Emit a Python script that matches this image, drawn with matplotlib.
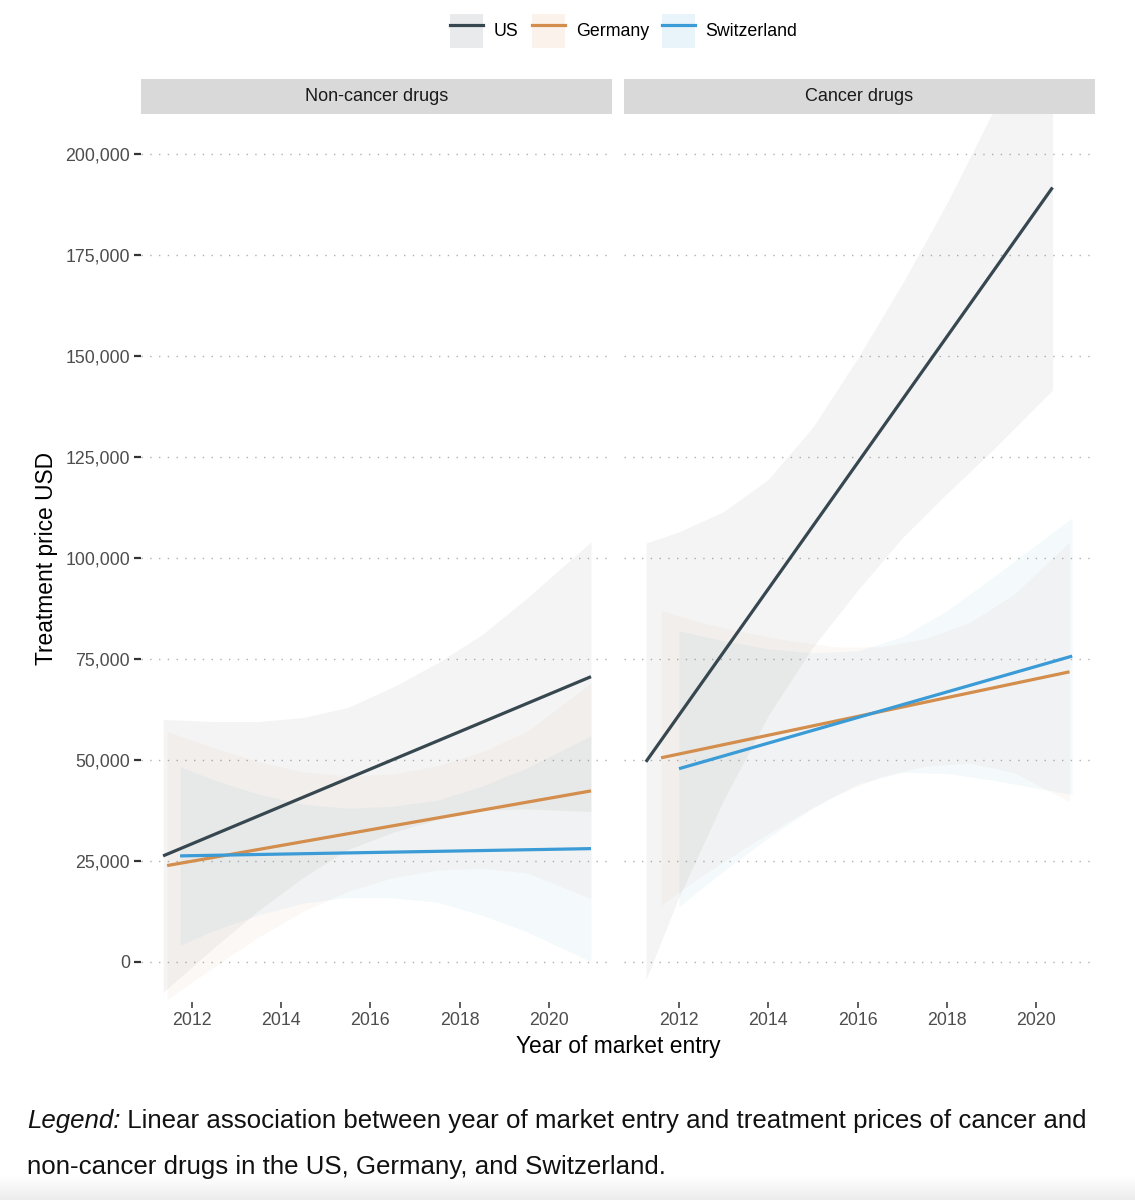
import numpy as np
import matplotlib
matplotlib.use("Agg")
import matplotlib.pyplot as plt
import matplotlib.ticker as mticker
from matplotlib.patches import Rectangle
from matplotlib.lines import Line2D
from matplotlib.colors import LinearSegmentedColormap

plt.rcParams["font.family"] = ["Liberation Sans", "DejaVu Sans"]


# Data

COUNTRIES = ["US", "Germany", "Switzerland"]
COLORS = {"US": "#37474f", "Germany": "#d38d4c", "Switzerland": "#3a9bd6"}
PANELS = ["Non-cancer drugs", "Cancer drugs"]
X_TICKS = [2012, 2014, 2016, 2018, 2020]
Y_TICKS = [0, 25000, 50000, 75000, 100000, 125000, 150000, 175000, 200000]

# Non-cancer drugs: regression lines (start / end)
NC_US_X = [2011.36, 2020.94]
NC_US_Y = [26200, 70600]
NC_DE_X = [2011.45, 2020.94]
NC_DE_Y = [23800, 42300]
NC_CH_X = [2011.74, 2020.94]
NC_CH_Y = [26200, 28000]

# Non-cancer drugs: confidence bands
NC_US_BX = [2011.36, 2012.5, 2013.5, 2014.5, 2015.5, 2016.5, 2017.5, 2018.5, 2019.5, 2020.94]
NC_US_LO = [-7600, 3500, 12700, 20900, 27800, 32000, 35200, 37600, 37800, 37200]
NC_US_HI = [60000, 59500, 59500, 60500, 63000, 68000, 74000, 81000, 90000, 104000]
NC_DE_BX = [2011.45, 2012.5, 2013.5, 2014.5, 2015.5, 2016.5, 2017.5, 2018.5, 2019.5, 2020.94]
NC_DE_LO = [-9400, -1300, 6100, 12500, 17400, 20800, 22700, 23100, 22000, 15600]
NC_DE_HI = [57000, 53000, 49500, 47000, 46000, 46500, 48500, 52000, 57000, 69000]
NC_CH_BX = [2011.74, 2012.5, 2013.5, 2014.5, 2015.5, 2016.5, 2017.5, 2018.5, 2019.5, 2020.94]
NC_CH_LO = [4100, 7700, 11600, 14500, 15900, 15800, 14700, 11500, 7400, 0]
NC_CH_HI = [48300, 45000, 41500, 39000, 38000, 38500, 40000, 43500, 48000, 56000]

# Cancer drugs: regression lines (start / end)
CA_US_X = [2011.26, 2020.36]
CA_US_Y = [49500, 191800]
CA_DE_X = [2011.60, 2020.74]
CA_DE_Y = [50500, 71800]
CA_CH_X = [2012.00, 2020.80]
CA_CH_Y = [47800, 75700]

# Cancer drugs: confidence bands
CA_US_BX = [2011.26, 2012.0, 2013.0, 2014.0, 2015.0, 2016.0, 2017.0, 2018.0, 2019.0, 2020.36]
CA_US_LO = [-4500, 16000, 40000, 61000, 78000, 92000, 105000, 116000, 126500, 141600]
CA_US_HI = [103700, 106500, 111500, 119500, 132500, 149500, 168000, 188000, 210000, 242000]
CA_DE_BX = [2011.60, 2012.5, 2013.5, 2014.5, 2015.5, 2016.5, 2017.5, 2018.5, 2019.5, 2020.74]
CA_DE_LO = [14000, 21200, 28300, 35100, 41200, 45800, 48400, 49200, 46800, 39600]
CA_DE_HI = [87000, 84000, 81500, 79500, 78000, 78000, 80000, 84000, 91000, 104000]
CA_CH_BX = [2012.0, 2013.0, 2014.0, 2015.0, 2016.0, 2017.0, 2018.0, 2019.0, 2020.80]
CA_CH_LO = [13600, 22500, 30700, 38100, 44000, 46900, 46600, 45000, 41400]
CA_CH_HI = [82000, 79500, 77500, 76500, 77000, 80500, 87000, 95000, 110000]

PANEL_DATA = {
    "Non-cancer drugs": {
        "US": (NC_US_X, NC_US_Y, NC_US_BX, NC_US_LO, NC_US_HI),
        "Germany": (NC_DE_X, NC_DE_Y, NC_DE_BX, NC_DE_LO, NC_DE_HI),
        "Switzerland": (NC_CH_X, NC_CH_Y, NC_CH_BX, NC_CH_LO, NC_CH_HI),
    },
    "Cancer drugs": {
        "US": (CA_US_X, CA_US_Y, CA_US_BX, CA_US_LO, CA_US_HI),
        "Germany": (CA_DE_X, CA_DE_Y, CA_DE_BX, CA_DE_LO, CA_DE_HI),
        "Switzerland": (CA_CH_X, CA_CH_Y, CA_CH_BX, CA_CH_LO, CA_CH_HI),
    },
}
XLIMS = {"Non-cancer drugs": (2010.865, 2021.41), "Cancer drugs": (2010.77, 2021.31)}


# Layout (pixel positions in a 1135 x 1200 figure)
W, H = 1135, 1200
PANEL_LEFTS = [141, 624]
PANEL_W = 471
PANEL_TOP, PANEL_BOTTOM = 114, 1002
STRIP_H = 35

fig = plt.figure(figsize=(W / 100, H / 100), dpi=100)
fig.patch.set_facecolor("white")

for i, panel in enumerate(PANELS):
    x0 = PANEL_LEFTS[i]
    ax = fig.add_axes([x0 / W, 1 - PANEL_BOTTOM / H, PANEL_W / W,
                       (PANEL_BOTTOM - PANEL_TOP) / H])
    ax.set_facecolor("white")

    # confidence bands first, lines on top
    for c in COUNTRIES:
        lx, ly, bx, lo, hi = PANEL_DATA[panel][c]
        ax.fill_between(bx, lo, hi, color=COLORS[c], alpha=0.055,
                        linewidth=0, zorder=2)
    for c in COUNTRIES:
        lx, ly, bx, lo, hi = PANEL_DATA[panel][c]
        ax.plot(lx, ly, color=COLORS[c], linewidth=2.3,
                solid_capstyle="butt", zorder=3)

    ax.set_xlim(*XLIMS[panel])
    ax.set_ylim(-10000, 210000)
    ax.set_xticks(X_TICKS)
    ax.set_yticks(Y_TICKS)
    ax.yaxis.set_major_formatter(mticker.StrMethodFormatter("{x:,.0f}"))

    ax.yaxis.grid(True, color="#b0b0b0", linestyle=(0, (1, 5.3)),
                  linewidth=1.0, zorder=1)
    ax.xaxis.grid(False)
    ax.set_axisbelow(True)
    for s in ax.spines.values():
        s.set_visible(False)

    ax.tick_params(axis="x", length=4, width=1.1, color="#333333",
                   labelsize=12.8, labelcolor="#4d4d4d", pad=3)
    if i == 0:
        ax.tick_params(axis="y", length=5, width=1.6, color="#333333",
                       labelsize=12.8, labelcolor="#4d4d4d", pad=3)
    else:
        ax.tick_params(axis="y", length=0, labelleft=False)

    # facet strip
    sax = fig.add_axes([x0 / W, 1 - PANEL_TOP / H, PANEL_W / W, STRIP_H / H])
    sax.set_facecolor("#d9d9d9")
    sax.set_xticks([])
    sax.set_yticks([])
    for s in sax.spines.values():
        s.set_visible(False)
    sax.text(0.5, 0.5, panel, ha="center", va="center", fontsize=13,
             color="#1a1a1a", transform=sax.transAxes)

# Axis titles
fig.text(618 / W, 1 - 1053 / H, "Year of market entry", ha="center",
         va="baseline", fontsize=16.4, color="#000000")
fig.text(47 / W, 1 - 558 / H, "Treatment price USD", ha="center",
         va="center", rotation=90, fontsize=16.4, color="#000000")

# Legend at top
handles = [(Rectangle((0, 0), 1, 1, facecolor=COLORS[c], alpha=0.11, linewidth=0),
            Line2D([], [], color=COLORS[c], linewidth=2.3)) for c in COUNTRIES]
fig.legend(handles, COUNTRIES, loc="center", bbox_to_anchor=(624 / W, 1 - 31 / H),
           ncol=3, frameon=False, fontsize=12.8, handlelength=1.85,
           handleheight=2.5, handletextpad=0.6, columnspacing=0.75)

# Caption below the chart
cap1 = fig.text(27 / W, 1 - 1128 / H, "Legend:", fontsize=18.6, style="italic",
                ha="left", va="baseline", color="#111111")
fig.canvas.draw()
bb = cap1.get_window_extent(renderer=fig.canvas.get_renderer())
fig.text(bb.x1 / W, 1 - 1128 / H,
         " Linear association between year of market entry and treatment prices of cancer and",
         fontsize=18.6, ha="left", va="baseline", color="#111111")
fig.text(27 / W, 1 - 1174 / H,
         "non-cancer drugs in the US, Germany, and Switzerland.",
         fontsize=18.6, ha="left", va="baseline", color="#111111")

# faint grey fade along the bottom edge
gax = fig.add_axes([0, 0, 1, 24 / H])
fade = LinearSegmentedColormap.from_list("fade", ["#ffffff", "#ececec"])
gax.imshow(np.linspace(0, 1, 64).reshape(-1, 1), aspect="auto", cmap=fade,
           extent=[0, 1, 0, 1], origin="upper")
gax.set_axis_off()

fig.savefig("out.png", dpi=100, facecolor="white")
